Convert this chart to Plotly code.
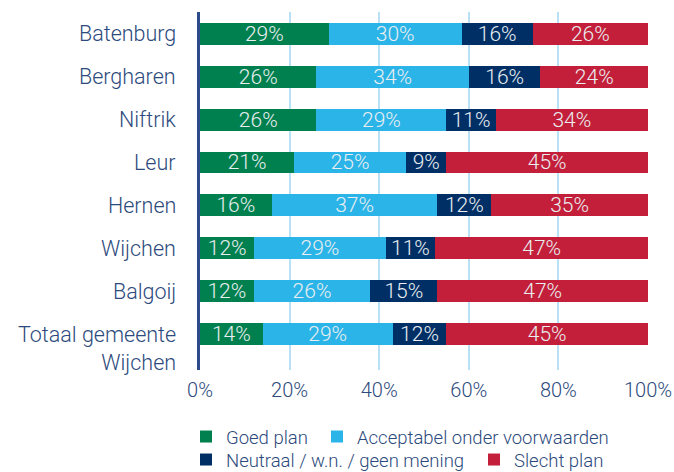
import plotly.graph_objects as go

categories = ["Batenburg", "Bergharen", "Niftrik", "Leur", "Hernen", "Wijchen", "Balgoij", "Totaal gemeente<br>Wijchen"]
goed_plan = [29, 26, 26, 21, 16, 12, 12, 14]
acceptabel = [30, 34, 29, 25, 37, 29, 26, 29]
neutraal = [16, 16, 11, 9, 12, 11, 15, 12]
slecht_plan = [26, 24, 34, 45, 35, 47, 47, 45]

series_names = ["Goed plan", "Acceptabel onder voorwaarden", "Neutraal / w.n. / geen mening", "Slecht plan"]
series_values = [goed_plan, acceptabel, neutraal, slecht_plan]
series_colors = ["#00804f", "#2bb4e8", "#002f66", "#c41f3a"]
x_ticks = [0, 20, 40, 60, 80, 100]
x_ticktext = ["0%", "20%", "40%", "60%", "80%", "100%"]

FONT = "Roboto"
TEXTC = "#2c4a7c"
W, H = 674, 472

# legend placement (figure px): left of item, vertical centre
legend_pos = [(186, 437), (317, 437), (186, 460), (474, 460)]
legend_ids = ["legend", "legend2", "legend3", "legend4"]

fig = go.Figure()
for name, vals, col, lg in zip(series_names, series_values, series_colors, legend_ids):
    fig.add_trace(go.Bar(
        y=categories, x=vals, name=name, orientation="h",
        marker=dict(color=col, line=dict(width=0)),
        text=vals, texttemplate="%{text}%", textposition="inside",
        insidetextanchor="middle", textangle=0, constraintext="none",
        insidetextfont=dict(color="#e9eef0", size=21, family=FONT, weight=300),
        legend=lg,
    ))

for i, c in enumerate(categories):
    multi = "<br>" in c
    fig.add_annotation(
        x=0, xref="paper", y=c, yref="y", text=c, showarrow=False,
        xanchor="right", yanchor="top" if multi else "middle", align="right",
        xshift=-22, yshift=14 if multi else 0,
        font=dict(size=21.5, color=TEXTC, family=FONT, weight=300),
    )

legend_layouts = {}
for lg, (px, py) in zip(legend_ids, legend_pos):
    legend_layouts[lg] = dict(
        orientation="h", xref="container", yref="container",
        x=px / W, y=1 - py / H, xanchor="left", yanchor="middle",
        font=dict(size=18.5, color=TEXTC, family=FONT, weight=300),
        bgcolor="rgba(0,0,0,0)", borderwidth=0,
    )

fig.update_layout(
    barmode="stack", barnorm="percent", bargap=0.49,
    width=W, height=H,
    margin=dict(l=200, r=26, t=12, b=102, autoexpand=False),
    paper_bgcolor="white", plot_bgcolor="white",
    font=dict(family=FONT, color=TEXTC, weight=300),
    xaxis=dict(range=[0, 100], tickvals=x_ticks, ticktext=x_ticktext,
               showgrid=True, gridcolor="#b9e1f5", gridwidth=1.5,
               zeroline=False, showline=False, automargin=False,
               ticks="outside", ticklen=2, tickcolor="rgba(0,0,0,0)",
               tickfont=dict(size=20, color=TEXTC, family=FONT, weight=300)),
    yaxis=dict(categoryorder="array", categoryarray=categories,
               range=[7.84, -0.51], showticklabels=False, automargin=False,
               showgrid=False, zeroline=False,
               showline=True, linecolor="#2d4b8a", linewidth=2.5),
    showlegend=True,
    **legend_layouts,
)

fig.write_html(
    "out.html",
    config={"displayModeBar": False},
    post_script="document.body.style.margin='0';document.body.style.overflow='hidden';",
)
